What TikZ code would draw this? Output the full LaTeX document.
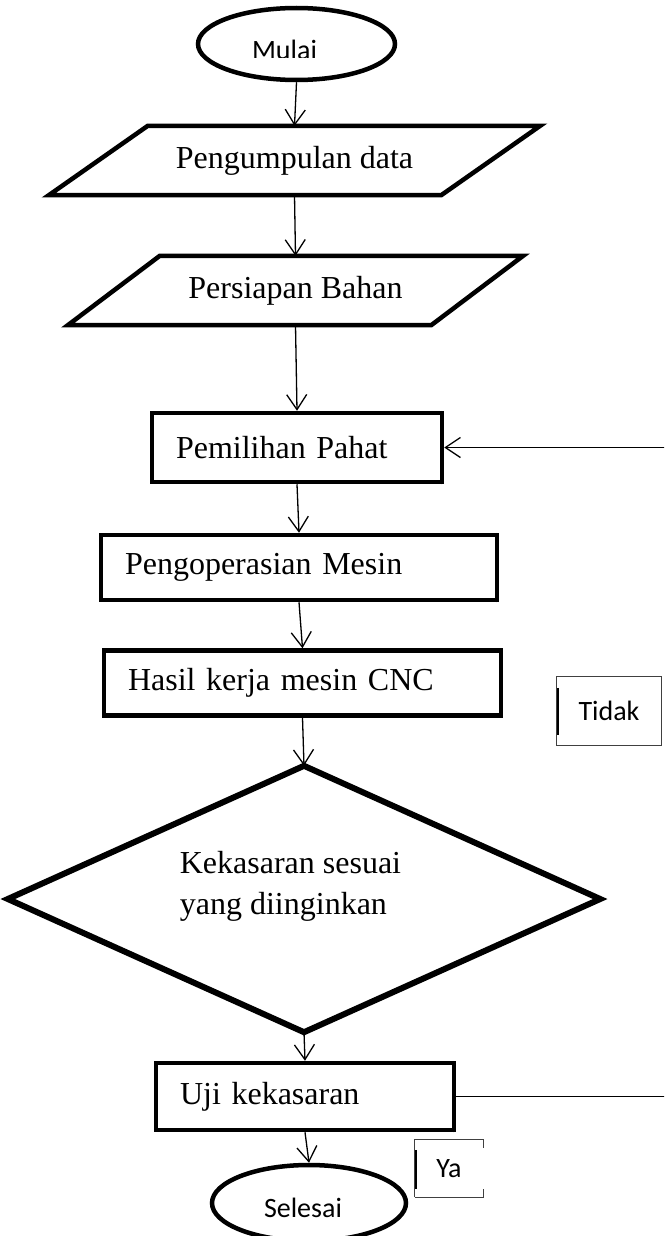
\documentclass[tikz,border=0pt]{standalone}
\usepackage{fontspec}
\setmainfont{Liberation Serif}
\newfontfamily\calib{Carlito}
\usetikzlibrary{arrows.meta,shapes.geometric}
\begin{document}
\begin{tikzpicture}[x=1pt,y=-1pt,
  serif/.style={font=\fontsize{32}{41}\selectfont},
  sansf/.style={font=\calib\fontsize{28}{34}\selectfont},
  frame/.style={line width=4.5pt, line join=miter},
  term/.style={ellipse, draw, line width=4.5pt, inner sep=0pt},
  para/.style={serif, inner sep=0pt},
  rbox/.style={draw, line width=4.5pt, serif, inner xsep=24pt, align=left},
  lbox/.style={sansf, inner sep=0pt},
  thinbox/.style={line width=0.9pt, black!75},
  conn/.style={line width=1.3pt, -{Straight Barb[length=15pt,width=20pt]}}]
\clip (0,0) rectangle (664,1236);
\fill[white] (0,0) rectangle (664,1236);

% start
\node[term, minimum width=197pt, minimum height=72pt] (start) at (296.5,44) {};
\begin{scope}
  \clip (200,10) rectangle (400,57.5);
  \node[sansf, anchor=base] (starttxt) at (284.5,60) {Mulai};
\end{scope}

% parallelograms
\node[para, minimum width=491pt, minimum height=69pt] (p1) at (294.5,160.5) {Pengumpulan data};
\draw[frame] ([xshift=99pt]p1.north west) -- (p1.north east) -- ([xshift=-99pt]p1.south east) -- (p1.south west) -- cycle;
\node[para, minimum width=455pt, minimum height=69pt] (p2) at (295.5,290.5) {Persiapan Bahan};
\draw[frame] ([xshift=92pt]p2.north west) -- (p2.north east) -- ([xshift=-92pt]p2.south east) -- (p2.south west) -- cycle;

% process boxes
\node[rbox, text width=242pt, minimum height=69pt] (pem) at (297,447.5) {Pemilihan Pahat};
\node[rbox, text width=348pt, minimum height=65pt] (peng) at (299,567.5) {Pengoperasian Mesin};
\node[rbox, text width=349pt, minimum height=65pt] (has) at (302.5,683) {Hasil kerja mesin CNC};
\node[rbox, text width=250pt, minimum height=67pt] (uji) at (305,1096.5) {Uji kekasaran};
\foreach \n in {pem,peng,has,uji}{
  \draw[line width=2.5pt] ([xshift=3.4pt,yshift=-12pt]\n.north west) -- ([xshift=3.4pt,yshift=6pt]\n.south west);
  \draw[line width=1pt] ([xshift=-2.7pt]\n.north east) -- ++(0,10);
  \draw[line width=1pt] ([xshift=-2.7pt]\n.south east) -- ++(0,-12);
}

% decision
\node[minimum width=592pt, minimum height=266pt, inner sep=0pt] (dec) at (304,899) {};
\draw[frame, line width=6pt] (dec.north) -- (dec.east) -- (dec.south) -- (dec.west) -- cycle;
\node[serif, align=left] (dectxt) at (290.5,886) {Kekasaran sesuai\\yang diinginkan};

% end
\node[term, minimum width=194pt, minimum height=76pt] (end) at (309,1203) {};
\node[sansf] (endtxt) at (303,1208) {Selesai};

% labels
\node[lbox, minimum width=104pt, minimum height=68pt] (tidak) at (609,711) {Tidak};
\draw[thinbox] (tidak.north west) rectangle (tidak.south east);
\draw[line width=2.5pt] ([xshift=1.2pt,yshift=-11pt]tidak.north west) -- ([xshift=1.2pt,yshift=10pt]tidak.south west);

\node[lbox, minimum width=68pt, minimum height=57pt] (ya) at (449,1168.5) {Ya};
\draw[thinbox] (ya.south west) -- (ya.north west) -- (ya.north east) -- ++(0,8);
\draw[thinbox] (ya.south west) -- (ya.south east) -- ++(0,-8);
\draw[line width=2.5pt] ([xshift=1.2pt,yshift=-10pt]ya.north west) -- ([xshift=1.2pt,yshift=8pt]ya.south west);

% connectors
\draw[conn] (start.south) -- (p1.north);
\draw[conn] (p1.south) -- (p2.north);
\draw[conn] (p2.south) -- (pem.north);
\draw[conn] (pem.south) -- (peng.north);
\draw[conn] (peng.south) -- (has.north);
\draw[conn] (has.south) -- (dec.north);
\draw[conn] (dec.south) -- (uji.north);
\draw[conn] (uji.south) -- (end.north);
\draw[conn] (uji.east) -- ++(230,0) |- (pem.east);
\end{tikzpicture}
\end{document}
